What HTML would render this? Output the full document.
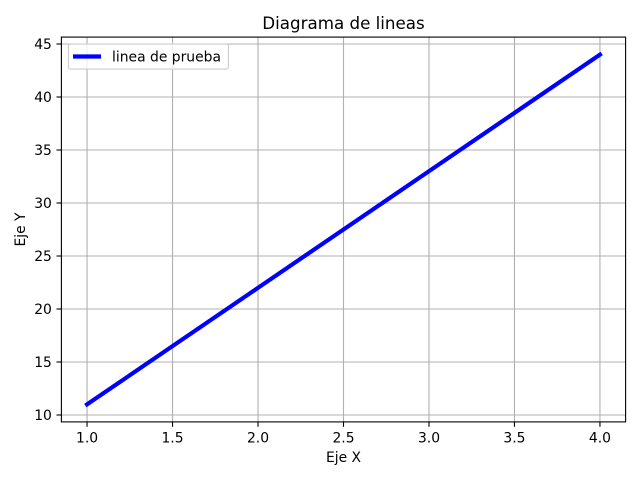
<!DOCTYPE html>
<html><head><meta charset="utf-8"><style>
body{margin:0;background:#fff;}
text{font-family:"DejaVu Sans","Liberation Sans",sans-serif;fill:#000;}
</style></head><body>
<svg id="chart" width="640" height="480" xmlns="http://www.w3.org/2000/svg">
<rect width="640" height="480" fill="#fff"/>
<g id="grid"></g>
<g id="ticks"></g>
<polyline id="series" fill="none" stroke="#0000ff" stroke-width="4.17" stroke-linecap="square"/>
<rect x="61.4" y="37.1" width="564.2" height="384.8" fill="none" stroke="#000" stroke-width="1.1"/>
<text x="343.5" y="29" font-size="16.7" text-anchor="middle">Diagrama de lineas</text>
<text x="343.5" y="462" font-size="13.9" text-anchor="middle">Eje X</text>
<text x="0" y="0" font-size="13.9" text-anchor="middle" transform="translate(25,229.5) rotate(-90)">Eje Y</text>
<g>
<rect x="68.4" y="44.1" width="160" height="25" rx="2" fill="#fff" fill-opacity="0.8" stroke="#ccc" stroke-width="1.1"/>
<line x1="73" y1="56.5" x2="101" y2="56.5" stroke="#0000ff" stroke-width="4.17"/>
<text x="112" y="61.5" font-size="13.9">linea de prueba</text>
</g>
</svg>
<script>
const xValues=[1,2,3,4];
const yValues=[11,22,33,44];
const xTicks=[1.0,1.5,2.0,2.5,3.0,3.5,4.0];
const yTicks=[10,15,20,25,30,35,40,45];
const ns="http://www.w3.org/2000/svg";
const X0=0.85,X1=4.15,Y0=9.35,Y1=45.65;
const L=61.4,R=625.6,T=37.1,B=421.9;
function sx(v){return L+(v-X0)/(X1-X0)*(R-L);}
function sy(v){return B-(v-Y0)/(Y1-Y0)*(B-T);}
const grid=document.getElementById('grid'),ticks=document.getElementById('ticks');
function mk(tag,attrs,parent){const e=document.createElementNS(ns,tag);for(const k in attrs)e.setAttribute(k,attrs[k]);parent.appendChild(e);return e;}
xTicks.forEach(t=>{const x=sx(t);
const g=mk('line',{x1:x,x2:x,y1:T,y2:B,stroke:'#b0b0b0','stroke-width':1.1},grid);


mk('line',{x1:x,x2:x,y1:B,y2:B+4.9,stroke:'#000','stroke-width':1.1},ticks);
const tx=mk('text',{x:x,y:B+20.5,'font-size':13.9,'text-anchor':'middle'},ticks);tx.textContent=t.toFixed(1);


});
yTicks.forEach(t=>{const y=sy(t);
const g=mk('line',{x1:L,x2:R,y1:y,y2:y,stroke:'#b0b0b0','stroke-width':1.1},grid);


mk('line',{x1:L-4.9,x2:L,y1:y,y2:y,stroke:'#000','stroke-width':1.1},ticks);
const tx=mk('text',{x:L-9.5,y:y+5,'font-size':13.9,'text-anchor':'end'},ticks);tx.textContent=t;


});
document.getElementById('series').setAttribute('points',xValues.map((v,i)=>sx(v)+','+sy(yValues[i])).join(' '));
</script>
</body></html>
